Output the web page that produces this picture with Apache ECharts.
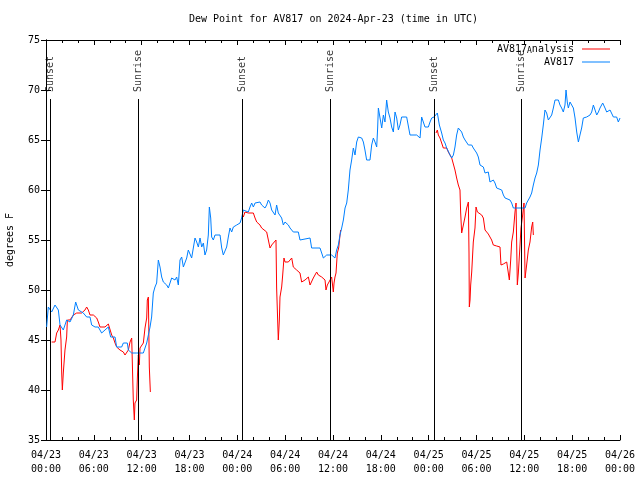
<!DOCTYPE html>
<html><head><meta charset="utf-8">
<script src="https://cdn.jsdelivr.net/npm/echarts@6/dist/echarts.min.js"></script>
<style>html,body{margin:0;padding:0;background:#fff}#c{width:640px;height:480px}</style>
</head><body><div id="c"></div><script>
// hours since 2024-04-23 00:00 UTC
const obsHours = [0.08,0.29,0.50,0.71,1.13,1.55,1.76,1.97,2.17,2.59,3.01,3.43,3.72,4.06,4.26,4.68,5.10,5.52,5.73,6.15,6.56,6.98,7.40,7.82,8.11,8.66,8.86,9.49,9.70,10.20,10.33,10.75,11.37,11.79,12.21,12.63,13.05,13.25,13.46,13.67,13.88,14.09,14.30,14.51,14.72,15.14,15.35,15.76,16.18,16.39,16.60,16.81,17.02,17.23,17.65,17.85,18.27,18.48,18.69,18.90,19.11,19.32,19.53,19.74,19.94,20.15,20.36,20.49,20.66,20.78,20.99,21.20,21.83,22.04,22.24,22.66,22.87,23.08,23.29,23.50,23.92,24.13,24.34,24.54,24.75,24.96,25.38,25.59,25.80,26.01,26.22,26.43,26.84,27.05,27.47,27.68,27.89,28.10,28.31,28.52,28.73,28.93,29.14,29.35,29.56,29.77,29.98,30.19,30.40,30.61,30.82,31.02,31.65,31.86,33.12,33.32,34.37,34.79,35.21,35.83,36.25,36.46,36.67,36.88,37.09,37.30,37.51,37.72,37.92,38.13,38.34,38.55,38.76,38.97,39.18,39.60,39.81,40.01,40.22,40.64,40.85,41.06,41.27,41.48,41.60,41.69,41.90,42.11,42.32,42.52,42.73,42.94,43.15,43.36,43.57,43.78,43.99,44.20,44.40,44.61,45.24,45.66,46.50,46.92,47.12,47.33,47.54,47.96,48.17,48.38,48.67,48.92,49.09,49.34,49.63,49.84,50.05,50.26,50.68,50.89,51.10,51.30,51.51,51.72,52.14,52.35,52.56,52.98,53.40,53.60,54.02,54.23,54.44,54.86,55.07,55.28,55.48,55.69,56.11,56.32,56.53,57.16,57.37,57.58,58.20,58.41,58.62,60.09,60.29,60.50,60.71,60.92,61.13,61.34,61.55,61.76,61.97,62.18,62.38,62.59,62.80,63.01,63.22,63.43,63.64,63.85,64.06,64.27,64.47,64.68,64.89,65.10,65.23,65.40,65.52,65.73,65.94,66.15,66.36,66.57,66.78,66.98,67.19,67.40,67.61,67.82,68.03,68.24,68.45,68.66,68.87,69.08,69.29,69.49,69.70,69.83,70.12,70.33,70.54,70.75,70.96,71.17,71.58,71.79,72.00];
const obsDew = [46.3,48.3,48.5,47.8,48.5,48.0,46.5,46.7,46.0,47.0,46.8,47.5,48.8,48.0,48.2,47.7,47.3,47.3,46.5,46.3,46.3,45.7,46.0,46.3,45.3,45.3,44.3,44.3,44.7,44.7,44.0,43.7,43.7,43.7,43.7,44.7,46.3,47.3,49.7,50.3,50.7,53.0,52.3,51.3,50.8,50.5,50.2,51.2,51.0,51.3,50.5,53.0,53.3,52.3,53.2,54.0,53.2,54.2,55.2,54.8,54.3,55.2,54.3,54.7,53.5,54.0,55.5,58.3,57.2,55.3,55.0,55.5,55.5,54.2,53.5,54.3,55.3,56.2,55.8,56.3,56.5,56.3,56.7,57.2,58.0,58.2,57.8,58.3,58.7,58.3,58.7,58.5,58.8,58.5,58.2,58.5,59.0,58.7,58.0,58.2,57.5,58.5,57.7,57.8,57.2,56.5,56.8,57.0,56.5,56.2,56.3,55.8,55.8,55.0,55.2,54.2,54.2,53.2,53.5,53.5,53.2,54.0,54.5,55.5,56.2,57.0,58.2,58.7,60.0,62.0,63.0,64.2,63.5,64.8,65.3,65.2,64.8,64.0,63.0,63.0,64.5,65.2,64.8,64.3,66.2,68.2,67.2,66.2,67.5,66.8,69.0,67.8,67.2,66.3,65.8,67.8,67.2,66.0,66.5,67.3,67.3,65.5,65.5,65.2,67.3,66.8,66.3,66.3,66.8,67.2,67.3,67.2,67.7,66.5,65.7,65.0,64.7,64.2,63.5,63.2,63.5,64.3,65.5,66.2,65.8,65.3,65.0,64.5,64.5,64.2,63.7,63.3,62.5,62.3,61.7,61.5,61.8,60.8,61.0,60.7,60.2,60.0,59.5,59.2,59.0,58.7,58.2,58.2,58.7,58.8,59.3,59.7,60.5,61.2,61.7,62.5,64.0,65.2,66.5,68.0,67.7,67.0,67.2,67.5,68.2,69.0,68.8,69.0,68.5,68.2,67.8,68.5,70.0,68.7,68.2,68.8,68.7,68.2,67.2,65.8,64.8,65.5,66.2,67.2,67.0,67.3,67.2,67.5,67.8,68.5,68.0,67.5,67.8,68.2,68.3,68.7,68.2,67.8,67.7,68.0,67.8,67.3,67.3,66.8,67.2];

const anaHours1 = [0.71,1.13,1.34,1.55,1.76,1.88,1.97,2.05,2.17,2.38,2.59,2.68,3.01,3.22,3.43,3.85,4.06,4.47,4.68,4.89,5.10,5.31,5.52,5.73,5.94,6.15,6.36,6.56,6.77,6.98,7.40,7.61,7.82,8.03,8.24,8.45,8.66,8.86,9.28,9.70,9.91,10.12,10.33,10.54,10.75,10.87,10.95,11.08,11.16,11.37,11.46,11.58,11.71,11.79,12.00,12.21,12.42,12.63,12.71,12.84,12.96,13.09];
const anaDew1 = [44.8,44.8,45.7,46.0,46.5,45.0,41.7,40.0,41.7,44.0,45.3,47.0,47.0,47.2,47.5,47.7,47.8,47.7,47.7,48.0,48.3,48.0,47.5,47.3,47.5,47.7,47.2,46.8,46.3,46.2,46.3,46.5,46.6,46.5,45.5,45.2,44.7,44.3,44.0,43.8,43.5,43.3,44.0,44.8,45.2,45.3,39.0,37.0,38.7,39.0,41.2,43.5,42.5,44.2,44.0,44.7,46.2,47.2,49.0,49.3,42.3,39.8];
const anaHours2 = [24.75,24.96,25.38,25.59,26.01,26.22,26.43,26.63,26.84,27.05,27.68,27.89,28.10,28.31,28.52,28.85,28.93,29.14,29.27,29.35,29.56,29.69,29.85,29.98,30.40,30.61,30.82,31.02,31.44,31.86,32.07,32.49,32.91,33.12,33.53,33.74,33.95,34.16,34.58,35.00,35.12,35.29,35.50,35.83,36.04,36.13,36.25,36.38,36.54,36.71,36.88,36.96];
const anaDew2 = [57.3,57.8,57.7,57.5,57.7,57.2,56.8,56.7,56.5,56.2,55.8,55.0,54.2,54.5,54.7,55.0,50.2,45.0,47.0,49.3,50.3,51.5,53.2,52.8,52.8,53.0,53.2,52.3,52.0,51.7,50.8,51.0,51.3,50.5,51.2,51.5,51.8,51.5,51.3,51.0,50.0,50.5,50.8,51.3,49.8,50.7,51.3,51.7,53.7,54.2,55.5,56.0];
const anaHours3 = [48.92,49.09,49.21,49.42,49.63,49.84,50.05,50.26,50.47,50.68,50.89,51.10,51.30,51.51,51.72,51.93,52.01,52.14,52.35,52.56,52.77,52.98,53.06,53.10,53.19,53.27,53.40,53.60,53.81,53.94,54.11,54.23,54.65,54.86,55.07,55.28,55.48,55.69,55.90,56.11,56.53,56.95,57.07,57.37,57.79,57.99,58.12,58.29,58.41,58.62,58.83,58.96,59.12,59.25,59.46,59.58,59.79,59.96,60.09,60.29,60.50,60.71,60.92,61.05,61.13];
const anaDew3 = [65.7,66.0,65.5,65.2,64.7,64.2,64.0,64.2,63.8,63.7,63.2,63.0,62.0,61.2,60.5,60.0,57.8,55.7,56.5,57.3,58.2,58.8,53.7,48.3,49.0,50.5,51.8,54.8,56.2,58.3,57.8,57.7,57.5,57.2,56.0,55.8,55.6,55.3,55.0,54.5,54.4,54.3,52.5,52.6,52.8,52.7,51.0,53.0,54.8,55.8,57.8,58.7,50.5,51.7,54.5,56.2,57.5,58.7,51.2,52.5,54.0,54.8,56.3,56.8,55.5];

const sunHours = [0.59, 11.58, 24.63, 35.67, 48.71, 59.63];
const sunLabels = ['Sunset','Sunrise','Sunset','Sunrise','Sunset','Sunrise'];
const sunLineTop = 69.1;   // y value where the marker line stops
const sunLabelAt = 69.8;   // y value where the rotated label starts

const yTicks = [35,40,45,50,55,60,65,70,75];

const zip = (xs, ys) => xs.map((x, i) => [x, ys[i]]);
const FONT = 'DejaVu Sans Mono';
const RED = '#ff0000', BLUE = '#0080ff';

function fmtX(v) {
  const day = 23 + Math.floor(v / 24);
  const hr = v % 24;
  return '04/' + String(day).padStart(2,'0') + '\n' + String(hr).padStart(2,'0') + ':00';
}

const baseX = {
  type: 'value', min: 0, max: 72, interval: 6,
  axisLine: { show: true, lineStyle: { color: '#000', width: 1 } },
  axisTick: { show: true, inside: true, length: 5, lineStyle: { color: '#000' } },
  minorTick: { show: true, splitNumber: 3, length: 3, lineStyle: { color: '#000' } },
  splitLine: { show: false }
};
const baseY = {
  type: 'value', min: yTicks[0], max: yTicks[yTicks.length-1], interval: 5,
  axisLine: { show: true, lineStyle: { color: '#000', width: 1 } },
  axisTick: { show: true, inside: true, length: 5, lineStyle: { color: '#000' } },
  splitLine: { show: false }
};

const anaLine = (d) => ({
  name: 'AV817_Analysis', type: 'line', data: d, symbol: 'none',
  lineStyle: { color: RED, width: 1 }, itemStyle: { color: RED }, z: 2
});

const option = {
  animation: false,
  backgroundColor: '#fff',
  textStyle: { fontFamily: FONT },
  title: {
    text: 'Dew Point for AV817 on 2024-Apr-23 (time in UTC)',
    left: 184, top: 9,
    textStyle: { fontFamily: FONT, fontSize: 10, fontWeight: 'normal', color: '#000' }
  },
  legend: {
    orient: 'vertical', right: 25, top: 38, align: 'right',
    data: ['AV817_Analysis', 'AV817'],
    itemWidth: 28, itemHeight: 1, itemGap: 1, icon: 'rect',
    formatter: (n) => n === 'AV817_Analysis' ? '{n|AV817}{s|A}{n|nalysis}' : '{n|' + n + '}',
    textStyle: {
      fontFamily: FONT, fontSize: 10, color: '#000', lineHeight: 12, padding: [0, 3, 0, 0],
      rich: {
        n: { fontFamily: FONT, fontSize: 10, color: '#000', lineHeight: 12, verticalAlign: 'middle' },
        s: { fontFamily: FONT, fontSize: 8, color: '#000', lineHeight: 6, verticalAlign: 'bottom' }
      }
    }
  },
  grid: { left: 46, right: 20, top: 40, bottom: 40, containLabel: false, outerBoundsMode: 'none' },
  xAxis: [
    Object.assign({}, baseX, {
      position: 'bottom',
      axisLabel: { formatter: fmtX, fontFamily: FONT, fontSize: 10, color: '#000', lineHeight: 14, margin: 8 }
    }),
    Object.assign({}, baseX, { position: 'top', axisLabel: { show: false } })
  ],
  yAxis: [
    Object.assign({}, baseY, {
      position: 'left', name: 'degrees F', nameLocation: 'middle', nameGap: 31, nameRotate: 90,
      nameTextStyle: { fontFamily: FONT, fontSize: 10, color: '#000' },
      axisLabel: { fontFamily: FONT, fontSize: 10, color: '#000', margin: 6 }
    }),
    Object.assign({}, baseY, { position: 'right', axisLabel: { show: false } })
  ],
  series: [
    {
      name: 'sun', type: 'scatter', symbolSize: 0, silent: true,
      data: sunHours.map((h, i) => ({ value: [h, sunLabelAt], name: sunLabels[i] })),
      label: {
        show: true, formatter: (p) => p.name, rotate: 90, position: 'inside',
        align: 'left', verticalAlign: 'middle',
        fontFamily: FONT, fontSize: 10, color: '#000'
      },
      markLine: {
        silent: true, symbol: 'none', label: { show: false },
        lineStyle: { color: '#000', width: 1, type: 'solid' },
        data: sunHours.map((h) => [{ coord: [h, yTicks[0]] }, { coord: [h, sunLineTop] }])
      },
      z: 1
    },
    anaLine(zip(anaHours1, anaDew1)),
    anaLine(zip(anaHours2, anaDew2)),
    anaLine(zip(anaHours3, anaDew3)),
    {
      name: 'AV817', type: 'line', data: zip(obsHours, obsDew), symbol: 'none',
      lineStyle: { color: BLUE, width: 1 }, itemStyle: { color: BLUE }, z: 3
    }
  ]
};

const chart = echarts.init(document.getElementById('c'), null, { renderer: 'canvas' });
chart.setOption(option);
</script></body></html>
